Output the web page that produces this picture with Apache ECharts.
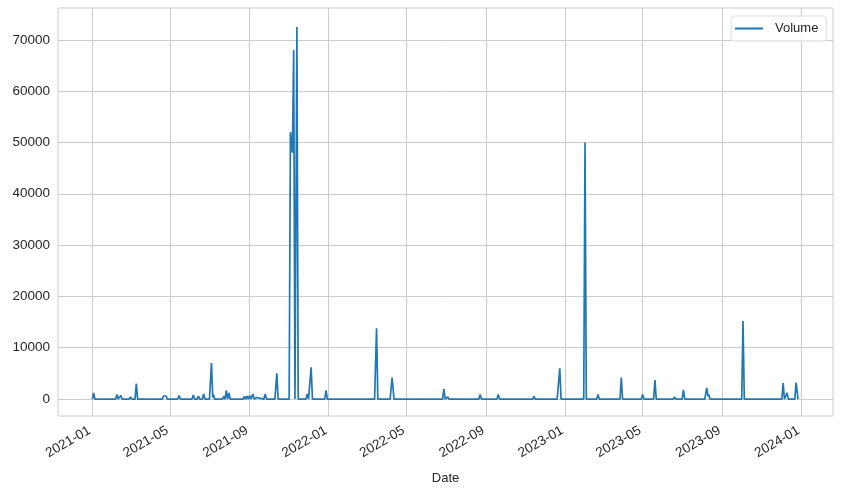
<!DOCTYPE html>
<html>
<head>
<meta charset="utf-8">
<script src="https://cdn.jsdelivr.net/npm/echarts@6/dist/echarts.min.js"></script>
<style>
html,body{margin:0;padding:0;background:#fff;}
#chart{width:843px;height:494px;}
</style>
</head>
<body>
<div id="chart"></div>
<script>
// Data (daily volume; zeros between spikes)
const dates = [
'2021-01-01','2021-01-03','2021-01-05',
'2021-01-19','2021-01-20','2021-01-21',
'2021-02-06','2021-02-08','2021-02-10',
'2021-02-12','2021-02-14','2021-02-16',
'2021-02-27','2021-03-01','2021-03-03',
'2021-03-08','2021-03-10','2021-03-12',
'2021-03-14','2021-03-15','2021-03-16',
'2021-04-19','2021-04-21','2021-04-25','2021-04-27',
'2021-05-13','2021-05-15','2021-05-17',
'2021-06-04','2021-06-06','2021-06-08',
'2021-06-12','2021-06-14','2021-06-16',
'2021-06-20','2021-06-22','2021-06-24',
'2021-07-01','2021-07-04','2021-07-06','2021-07-07','2021-07-09',
'2021-07-21','2021-07-23','2021-07-25','2021-07-27','2021-07-29','2021-07-31','2021-08-02',
'2021-08-22','2021-08-24','2021-08-26','2021-08-28','2021-08-30','2021-09-01','2021-09-03','2021-09-06','2021-09-08','2021-09-12','2021-09-14',
'2021-09-23','2021-09-25','2021-09-27',
'2021-10-10','2021-10-13','2021-10-15',
'2021-11-01','2021-11-03','2021-11-06','2021-11-08','2021-11-10','2021-11-13','2021-11-15',
'2021-11-27','2021-11-29','2021-12-01','2021-12-03','2021-12-05','2021-12-07',
'2021-12-26','2021-12-28','2021-12-30',
'2022-01-12','2022-01-13','2022-01-14',
'2022-02-22','2022-02-23','2022-02-24',
'2022-03-13','2022-03-16','2022-03-18',
'2022-04-06','2022-04-09','2022-04-12',
'2022-05-05','2022-05-06','2022-05-07',
'2022-05-16','2022-05-17','2022-05-18',
'2022-06-26','2022-06-28','2022-06-30','2022-07-02','2022-07-04','2022-07-06',
'2022-07-30','2022-07-31','2022-08-01',
'2022-08-07','2022-08-08','2022-08-09',
'2022-08-21','2022-08-23','2022-08-25',
'2022-09-06','2022-09-07','2022-09-08','2022-09-10','2022-09-11','2022-09-12',
'2022-09-18','2022-09-20','2022-09-22',
'2022-10-03','2022-10-04','2022-10-05',
'2022-10-16','2022-10-17','2022-10-18',
'2022-10-25','2022-10-26','2022-10-27',
'2022-11-12','2022-11-14','2022-11-16',
'2022-12-20','2022-12-24','2022-12-26',
'2023-01-02','2023-01-03','2023-01-04',
'2023-01-30','2023-02-01','2023-02-03',
'2023-02-19','2023-02-21','2023-02-23',
'2023-03-27','2023-03-29','2023-03-31',
'2023-04-20','2023-04-21','2023-04-22',
'2023-04-29','2023-05-01','2023-05-03',
'2023-05-18','2023-05-20','2023-05-22',
'2023-06-17','2023-06-19','2023-06-21','2023-06-22','2023-06-23','2023-06-24',
'2023-07-01','2023-07-03','2023-07-05',
'2023-08-05','2023-08-08','2023-08-10','2023-08-11','2023-08-13',
'2023-08-23','2023-08-24','2023-08-25',
'2023-10-01','2023-10-03','2023-10-05',
'2023-12-02','2023-12-04','2023-12-06','2023-12-08','2023-12-10','2023-12-12',
'2023-12-22','2023-12-24','2023-12-27'
];
const volumes = [
0,1200,0,
0,200,0,
0,900,0,
0,700,0,
0,400,0,
0,3000,0,
0,100,0,
0,600,600,0,
0,700,0,
0,800,0,
0,600,0,
0,1000,0,
0,7000,300,900,0,
0,500,0,1700,0,1200,0,
0,500,0,600,0,700,0,1000,0,300,0,
0,1000,0,
0,5000,0,
0,52000,48000,68000,0,72500,0,
0,1000,0,0,6200,0,
0,1700,0,
0,100,0,
0,200,0,
0,13800,0,
0,4200,0,
0,100,0,
0,100,0,
0,2000,0,0,400,0,
0,100,0,
0,100,0,
0,900,0,
0,100,0,0,100,0,
0,900,0,
0,100,0,
0,100,0,
0,100,0,
0,500,0,
0,6000,0,
0,100,0,
0,50000,0,
0,900,0,
0,4200,0,
0,100,0,
0,900,0,
0,3700,0,
0,400,0,0,100,0,
0,1800,0,
0,2200,500,900,0,
0,100,0,
0,15200,0,
0,3100,0,0,1200,0,
0,3200,0
];
const xTickLabels = ['2021-01','2021-05','2021-09','2022-01','2022-05','2022-09','2023-01','2023-05','2023-09','2024-01'];
const yTickValues = [0,10000,20000,30000,40000,50000,60000,70000];
const seriesName = 'Volume';
const xAxisTitle = 'Date';

const ts = s => new Date(s + 'T00:00:00').getTime();
const seriesData = dates.map((d, i) => [ts(d), volumes[i]]);
const xTicks = xTickLabels.map(s => ts(s + '-01'));

const FONT = '"Liberation Sans", Arial, sans-serif';
const TXT = '#262626';
const GRIDC = '#cccccc';

const chart = echarts.init(document.getElementById('chart'), null, {renderer: 'canvas'});
chart.setOption({
  animation: false,
  backgroundColor: '#ffffff',
  grid: {left: 58, right: 10, top: 8, bottom: 78, show: true, borderColor: GRIDC, borderWidth: 1, containLabel: false},
  legend: {
    data: [{name: seriesName, icon: 'rect'}],
    left: 731, top: 16,
    itemWidth: 28, itemHeight: 2,
    padding: [6, 8, 6, 4],
    backgroundColor: 'rgba(255,255,255,0.8)',
    borderColor: '#dddddd', borderWidth: 1, borderRadius: 3,
    textStyle: {fontFamily: FONT, fontSize: 13, color: TXT, padding: [0, 0, 0, 7]}
  },
  xAxis: {
    type: 'value',
    min: ts('2020-11-09'), max: ts('2024-02-19'),
    name: xAxisTitle, nameLocation: 'middle', nameGap: 56,
    nameTextStyle: {fontFamily: FONT, fontSize: 13, color: TXT},
    axisLine: {show: false},
    axisTick: {show: false, customValues: xTicks},
    axisLabel: {
      customValues: xTicks,
      rotate: 30, margin: 12, padding: [0, 3, 0, 0],
      fontFamily: FONT, fontSize: 13.5, color: TXT,
      formatter: v => { const d = new Date(v); return d.getFullYear() + '-' + String(d.getMonth() + 1).padStart(2, '0'); }
    },
    splitLine: {show: true, lineStyle: {color: GRIDC, width: 1}}
  },
  yAxis: {
    type: 'value',
    min: -3300, max: 76200,
    axisLine: {show: false},
    axisTick: {show: false, customValues: yTickValues},
    axisLabel: {customValues: yTickValues, margin: 8, fontFamily: FONT, fontSize: 13.5, color: TXT, formatter: v => String(v)},
    splitLine: {show: true, lineStyle: {color: GRIDC, width: 1}}
  },
  series: [{
    name: seriesName,
    type: 'line',
    data: seriesData,
    showSymbol: false,
    symbol: 'none',
    lineStyle: {color: '#1f77b4', width: 1.7},
    itemStyle: {color: '#1f77b4'}
  }]
});
</script>
</body>
</html>
